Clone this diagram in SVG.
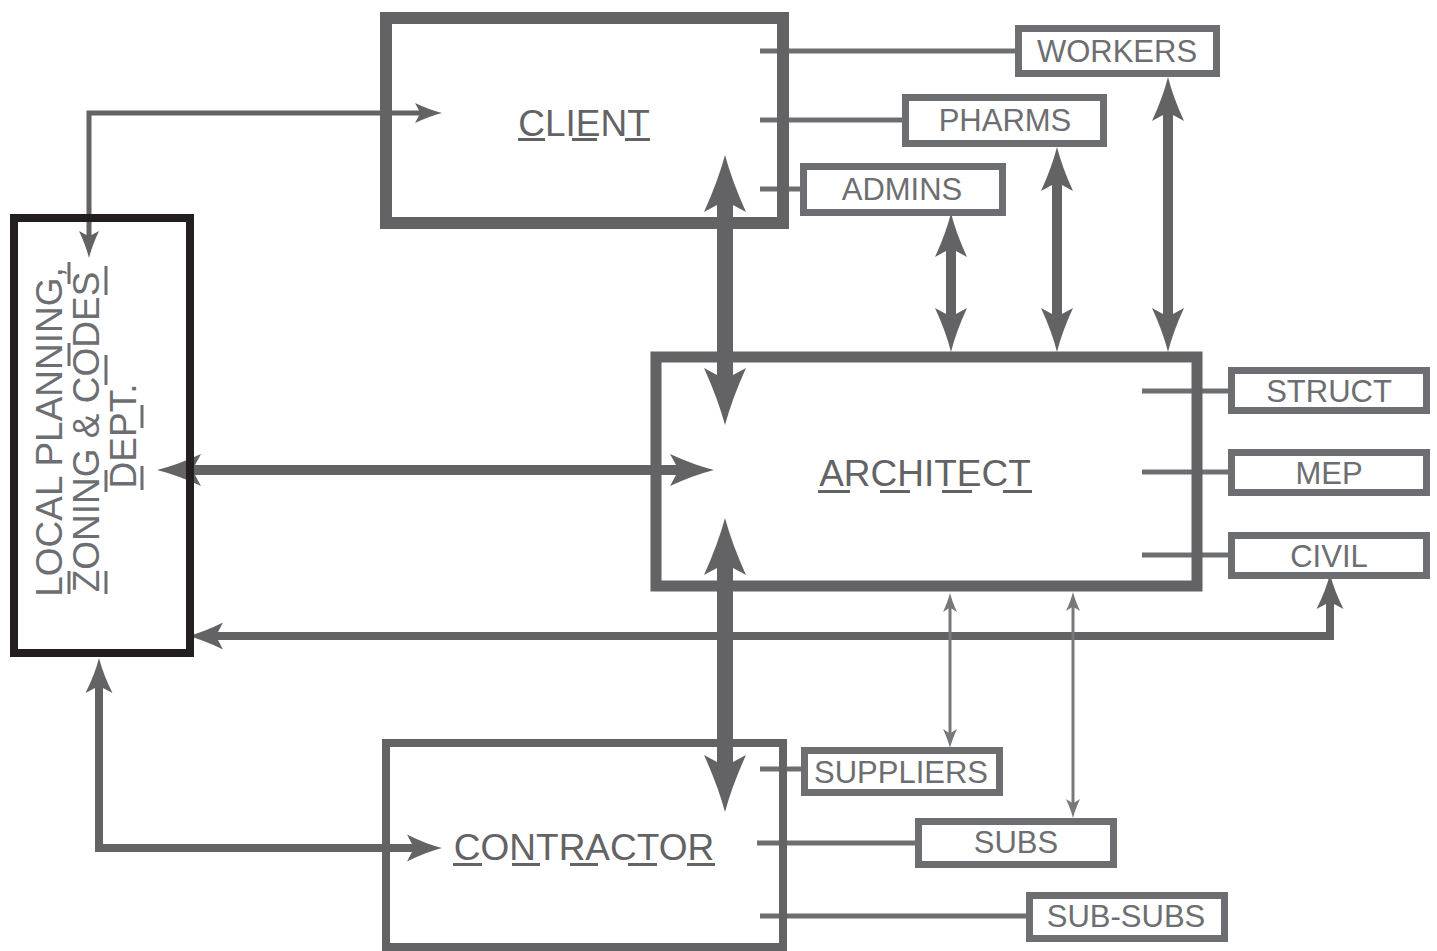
<svg xmlns="http://www.w3.org/2000/svg" width="1437" height="951" viewBox="0 0 1437 951">
<style>
.bg{fill:#ffffff}
.main{fill:none;stroke:#636366;stroke-width:11}
.local{fill:none;stroke:#231f20;stroke-width:8}
.small{fill:#ffffff;stroke:#6d6e71;stroke-width:7}
.tie{fill:none;stroke:#6d6e71;stroke-width:5}
.big{font-family:"Liberation Sans",Arial,sans-serif;font-size:37px;fill:#636366;text-anchor:middle}
.lbl{font-family:"Liberation Sans",Arial,sans-serif;font-size:31px;fill:#6d6e71;text-anchor:middle}
.vt{font-family:"Liberation Sans",Arial,sans-serif;font-size:37px;fill:#6d6e71;text-anchor:middle}
.ul{stroke:#636366;stroke-width:3;fill:none}
.ulv{stroke:#6d6e71;stroke-width:3;fill:none}
.a16{fill:none;stroke:#636366;stroke-width:16;marker-start:url(#mBig);marker-end:url(#mBig)}
.a10{fill:none;stroke:#636366;stroke-width:10;marker-start:url(#mMed);marker-end:url(#mMed)}
.a8{fill:none;stroke:#636366;stroke-width:8;marker-start:url(#mSm);marker-end:url(#mSm)}
.a5{fill:none;stroke:#636366;stroke-width:5;marker-start:url(#mThin);marker-end:url(#mThin)}
.a3{fill:none;stroke:#77787b;stroke-width:3;marker-start:url(#mHair);marker-end:url(#mHair)}
</style>
<defs>
<marker id="mBig" markerUnits="userSpaceOnUse" orient="auto-start-reverse" refX="0" refY="0" markerWidth="120" markerHeight="120" viewBox="-60 -60 120 120" overflow="visible"><path d="M48,0 Q22,-7 -9,-21 L-2,-8 L-2,8 L-9,21 Q22,7 48,0Z" fill="#636366"/></marker>
<marker id="mMed" markerUnits="userSpaceOnUse" orient="auto-start-reverse" refX="0" refY="0" markerWidth="100" markerHeight="100" viewBox="-50 -50 100 100" overflow="visible"><path d="M36,0 Q16,-5 -8,-16 L-2,-5 L-2,5 L-8,16 Q16,5 36,0Z" fill="#636366"/></marker>
<marker id="mSm" markerUnits="userSpaceOnUse" orient="auto-start-reverse" refX="0" refY="0" markerWidth="80" markerHeight="80" viewBox="-40 -40 80 80" overflow="visible"><path d="M28,0 Q12,-4 -7,-13.5 L-2,-4 L-2,4 L-7,13.5 Q12,4 28,0Z" fill="#636366"/></marker>
<marker id="mThin" markerUnits="userSpaceOnUse" orient="auto-start-reverse" refX="0" refY="0" markerWidth="60" markerHeight="60" viewBox="-30 -30 60 60" overflow="visible"><path d="M21,0 Q9,-3 -6,-10 L-2,-2.5 L-2,2.5 L-6,10 Q9,3 21,0Z" fill="#636366"/></marker>
<marker id="mHair" markerUnits="userSpaceOnUse" orient="auto-start-reverse" refX="0" refY="0" markerWidth="40" markerHeight="40" viewBox="-20 -20 40 40" overflow="visible"><path d="M14,0 Q6,-2 -5,-7 L-1.5,-1.5 L-1.5,1.5 L-5,7 Q6,2 14,0Z" fill="#77787b"/></marker>
</defs>
<rect class="bg" x="0" y="0" width="1437" height="951"/>

<g id="connectors">
  <line class="tie" x1="760" y1="51" x2="1016" y2="51"/>
  <line class="tie" x1="760" y1="120" x2="903" y2="120"/>
  <line class="tie" x1="760" y1="189" x2="801" y2="189"/>
  <line class="tie" x1="1142" y1="391" x2="1229" y2="391"/>
  <line class="tie" x1="1142" y1="472" x2="1229" y2="472"/>
  <line class="tie" x1="1142" y1="555" x2="1229" y2="555"/>
  <line class="tie" x1="760" y1="769" x2="802" y2="769"/>
  <line class="tie" x1="757" y1="843" x2="916" y2="843"/>
  <line class="tie" x1="760" y1="916" x2="1027" y2="916"/>
  <line class="a16" x1="725" y1="203" x2="725" y2="377"/>
  <line class="a16" x1="725" y1="566" x2="725" y2="764"/>
  <line class="a10" x1="193" y1="470" x2="678" y2="470"/>
  <line class="a10" x1="951" y1="249" x2="951" y2="316"/>
  <line class="a10" x1="1057" y1="183" x2="1057" y2="316"/>
  <line class="a10" x1="1168" y1="113" x2="1168" y2="316"/>
  <polyline class="a8" points="99,686 99,848 414,848"/>
  <polyline class="a8" points="216,636 1330,636 1330,602"/>
  <polyline class="a5" points="421,113 89,113 89,237"/>
  <line class="a3" x1="950" y1="607" x2="950" y2="734"/>
  <line class="a3" x1="1073" y1="606" x2="1073" y2="804"/>
</g>

<g id="client">
  <rect class="main" x="386" y="18" width="397" height="205" style="stroke-width:12"/>
  <text class="big" x="584" y="136">CLIENT</text>
  <path class="ul" d="M518,139.5H545M572,139.5H597M625,139.5H650"/>
</g>
<g id="architect">
  <rect class="main" x="656" y="357" width="541" height="229"/>
  <text class="big" x="925" y="486">ARCHITECT</text>
  <path class="ul" d="M818,491.5H850M880,491.5H910M942,491.5H972M1003,491.5H1032"/>
</g>
<g id="contractor">
  <rect class="main" x="386" y="743" width="397" height="204" style="stroke-width:8"/>
  <text class="big" x="584" y="860">CONTRACTOR</text>
  <path class="ul" d="M453,864.5H482M512,864.5H540M570,864.5H598M628,864.5H657M687,864.5H715"/>
</g>
<g id="local">
  <rect class="local" x="14" y="218" width="176" height="435"/>
  <text class="vt" transform="translate(62,432) rotate(-90)">LOCAL PLANNING,</text>
  <text class="vt" transform="translate(99,432) rotate(-90)">ZONING &amp; CODES</text>
  <text class="vt" transform="translate(136,436) rotate(-90)">DEPT.</text>
  <path class="ulv" d="M69,571V594M69,343V366M69,262V284M106,571V594M106,470V492M106,355V385M106,266V295M142,466V490M142,405V428"/>
</g>
<g id="workers">
  <rect class="small" x="1018.5" y="28.5" width="198" height="45"/>
  <text class="lbl" x="1117" y="62">WORKERS</text>
</g>
<g id="pharms">
  <rect class="small" x="905.5" y="97.5" width="198" height="46"/>
  <text class="lbl" x="1005" y="131">PHARMS</text>
</g>
<g id="admins">
  <rect class="small" x="803.5" y="166.5" width="199" height="46"/>
  <text class="lbl" x="902" y="200">ADMINS</text>
</g>
<g id="struct">
  <rect class="small" x="1231.5" y="370.5" width="195" height="40"/>
  <text class="lbl" x="1329" y="402">STRUCT</text>
</g>
<g id="mep">
  <rect class="small" x="1231.5" y="452.5" width="195" height="40"/>
  <text class="lbl" x="1329" y="484">MEP</text>
</g>
<g id="civil">
  <rect class="small" x="1231.5" y="535.5" width="195" height="40"/>
  <text class="lbl" x="1329" y="567">CIVIL</text>
</g>
<g id="suppliers">
  <rect class="small" x="804.5" y="750.5" width="195" height="42"/>
  <text class="lbl" x="901" y="783">SUPPLIERS</text>
</g>
<g id="subs">
  <rect class="small" x="918.5" y="821.5" width="195" height="43"/>
  <text class="lbl" x="1016" y="853">SUBS</text>
</g>
<g id="subsubs">
  <rect class="small" x="1029.5" y="895.5" width="195" height="43"/>
  <text class="lbl" x="1126" y="927">SUB-SUBS</text>
</g>
</svg>
